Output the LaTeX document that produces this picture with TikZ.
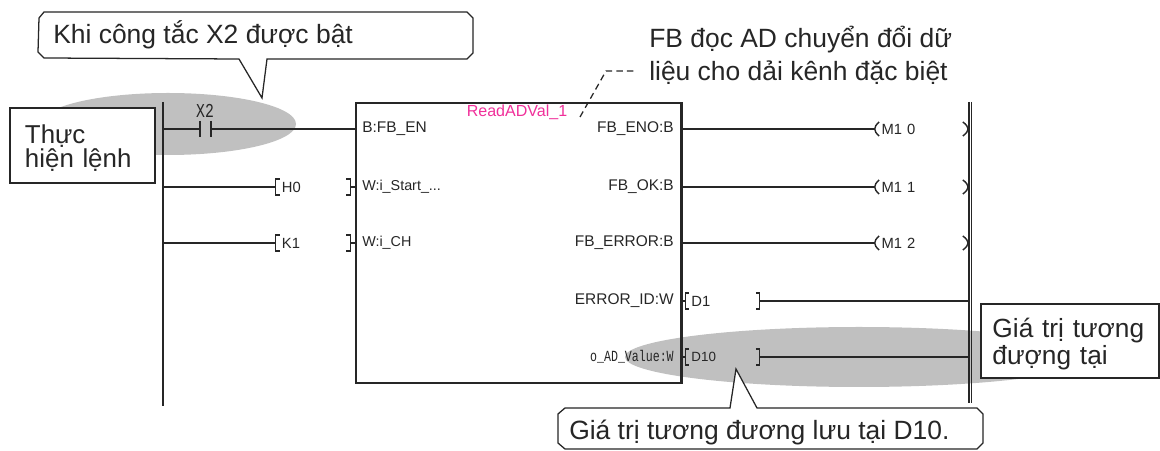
\documentclass[tikz,border=0pt]{standalone}
\usepackage{fontspec}
\usepackage{xcolor}
\setmainfont{Liberation Sans}
\newfontfamily\narrowmono[FakeStretch=0.75]{Liberation Mono}
\usetikzlibrary{calc}
\definecolor{blob}{HTML}{C0C0C0}
\definecolor{ink}{HTML}{262626}
\definecolor{fbname}{HTML}{F0309A}
\newcommand{\regends}[1]{%
  \draw[wire] ($(#1.west)+(4,-8)$) -- ++(-4,0) -- ++(0,16) -- ++(4,0);
  \draw[wire] ($(#1.east)+(-4,-8)$) -- ++(4,0) -- ++(0,16) -- ++(-4,0);}
\newcommand{\coilends}[1]{%
  \draw[wire] ($(#1.west)+(5,-7)$) .. controls ($(#1.west)+(-1,-2)$) and ($(#1.west)+(-1,2)$) .. ($(#1.west)+(5,7)$);
  \draw[wire] ($(#1.east)+(-6,-7)$) .. controls ($(#1.east)+(1,-2)$) and ($(#1.east)+(1,2)$) .. ($(#1.east)+(-6,7)$);}

\begin{document}
\begin{tikzpicture}[
  x=0.025cm, y=-0.025cm,
  wire/.style={draw=ink, line width=1pt},
  boldwire/.style={draw=ink, line width=1.4pt},
  blobby/.style={fill=blob, draw=none},
  callout/.style={draw=ink, fill=white, line width=0.9pt},
  notebox/.style={draw=ink, fill=white, line width=0.9pt, inner sep=0pt, align=left, text=ink},
  note/.style={font=\fontsize{18.8}{17}\selectfont, text=ink, align=left, inner sep=0pt},
  pin/.style={font=\fontsize{11}{12}\selectfont, text=ink, inner sep=0pt},
  reg/.style={font=\fontsize{10.5}{12}\selectfont, text=ink, inner ysep=0pt, inner xsep=0.15cm,
    text width=1.55cm, align=left, minimum height=0.4cm},
  coil/.style={reg, inner xsep=0.18cm, text width=1.99cm},
]
\useasboundingbox (0,0) rectangle (1160,451);

% Highlights
\fill[blobby] (168,124) ellipse [x radius=128, y radius=31];
\fill[blobby] (859,357) ellipse [x radius=234, y radius=30];

% Power rails
\coordinate (railLtop) at (163,102);
\coordinate (railLbot) at (163,406);
\coordinate (railRtop) at (969,102);
\coordinate (railRbot) at (969,403);
\draw[boldwire] (railLtop) -- (railLbot);
\draw[boldwire] (railRtop) -- (railRbot);
\draw[wire] ($(railRtop)+(2.5,0)$) -- ($(railRbot)+(2.5,0)$);

% Function block
\node[draw=ink, line width=1pt, minimum width=8.125cm, minimum height=7cm, inner sep=0pt] (fb) at (518.5,243) {};
\draw[boldwire] (fb.north east) -- (fb.south east);
\node[font=\fontsize{11.4}{12}\selectfont, text=fbname, inner sep=0pt] (fbname) at (517,112) {ReadADVal\_1};

% Input pins
\node[pin, anchor=west] (en) at (362,129) {B:FB\_EN};
\node[pin, anchor=west, font=\fontsize{10.2}{12}\selectfont] (start) at (362,187) {W:i\_Start\_...};
\node[pin, anchor=west, font=\fontsize{10.2}{12}\selectfont] (ch) at (362,243) {W:i\_CH};

% Output pins
\node[pin, anchor=east] (eno) at (674,129) {FB\_ENO:B};
\node[pin, anchor=east] (ok) at (674,187) {FB\_OK:B};
\node[pin, anchor=east] (err) at (674,243) {FB\_ERROR:B};
\node[pin, anchor=east] (errid) at (674,301) {ERROR\_ID:W};
\node[pin, anchor=east, font=\fontsize{11}{12}\narrowmono] (adval) at (674,357) {o\_AD\_Value:W};

% Contact
\coordinate (x2a) at (200,129);
\coordinate (x2b) at (211,129);
\node[font=\fontsize{14}{14}\narrowmono, text=ink, inner sep=0pt] (x2) at (205,111) {X2};
\draw[wire] ($(x2a)+(0,-8)$) -- ($(x2a)+(0,8)$);
\draw[wire] ($(x2b)+(0,-8)$) -- ($(x2b)+(0,8)$);
\draw[boldwire] (railLtop |- x2a) -- (x2a);
\draw[boldwire] (x2b) -- (fb.west |- x2b);

% Input registers
\node[reg] (h0) at (313,187) {H0};
\node[reg] (k1) at (313,243) {K1};
\regends{h0}
\regends{k1}
\draw[wire] (railLtop |- h0) -- (h0.west);
\draw[wire] (railLtop |- k1) -- (k1.west);
\draw[wire] (h0.east) -- (fb.west |- h0);
\draw[wire] (k1.east) -- (fb.west |- k1);

% Coils
\node[coil] (m10) at (921.5,129) {M1 0};
\node[coil] (m11) at (921.5,187) {M1 1};
\node[coil] (m12) at (921.5,243) {M1 2};
\coilends{m10}
\coilends{m11}
\coilends{m12}
\draw[wire] (fb.east |- m10) -- (m10.west);
\draw[wire] (fb.east |- m11) -- (m11.west);
\draw[wire] (fb.east |- m12) -- (m12.west);

% Output registers
\node[reg] (d1) at (722.5,301) {D1};
\node[reg, font=\fontsize{9.5}{12}\selectfont] (d10) at (722.5,357) {D10};
\regends{d1}
\regends{d10}
\draw[wire] (fb.east |- d1) -- (d1.west);
\draw[wire] (fb.east |- d10) -- (d10.west);
\draw[wire] (d1.east) -- (railRtop |- d1);
\draw[boldwire] (d10.east) -- (railRtop |- d10);

% Callouts
\draw[callout] (44,12) -- (467,12) -- (473,18) -- (473,53) -- (467,59) -- (267,59) -- (262,98)
  -- (239,59) -- (44,58) -- (38,52) -- (39,18) -- cycle;
\node[note, anchor=west] (whenon) at (53,35) {Khi công tắc X2 được bật};
\draw[callout] (565,408) -- (730,408) -- (736,369) -- (757,408) -- (977,408) -- (983,414) -- (983,443)
  -- (977,449) -- (565,449) -- (558,443) -- (558,414) -- cycle;
\node[note, anchor=west] (saved) at (569,433) {Giá trị tương đương lưu tại D10.};

% Note boxes
\node[notebox, minimum width=3.625cm, minimum height=1.875cm, text width=2.875cm, font=\fontsize{18.4}{17}\selectfont] (exec) at (82.5,145.5) {\rule{0pt}{17pt}Thực\\hiện lệnh};
\node[notebox, minimum width=4.45cm, minimum height=1.85cm, text width=3.875cm, font=\fontsize{18.7}{19}\selectfont] (value) at (1070,341) {\rule{0pt}{18pt}Giá trị tương\\đượng tại};

% Block note
\node[note, anchor=west, font=\fontsize{18.8}{23.5}\selectfont] (fbnote) at (649,55) {FB đọc AD chuyển đổi dữ\\liệu cho dải kênh đặc biệt};
\coordinate (leadstart) at (580,117);
\coordinate (leadbend) at (606,71);
\coordinate (leadend) at (636,71);
\draw[ink, line width=0.9pt, dash pattern=on 4.5pt off 3pt] (leadstart) -- (leadbend) -- (leadend);
\end{tikzpicture}
\end{document}
